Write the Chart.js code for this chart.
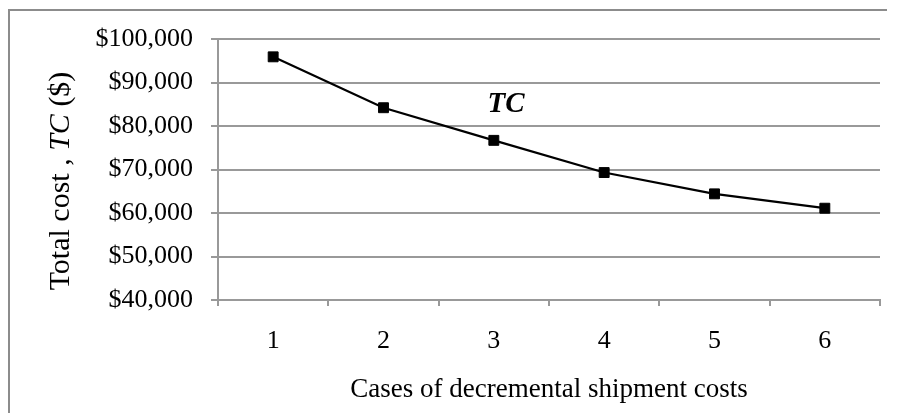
<!DOCTYPE html>
<html>
<head>
<meta charset="utf-8">
<script src="https://cdn.jsdelivr.net/npm/chart.js@4.4.1/dist/chart.umd.min.js"></script>
<style>
    body { margin: 0; background: #fff; }
    #wrap { width: 897px; height: 413px; position: relative; }
</style>
</head>
<body>
<div id="wrap"><canvas id="tcChart"></canvas></div>
<script>
const cases = ["1", "2", "3", "4", "5", "6"];
const totalCost = [95900, 84200, 76700, 69300, 64400, 61100];
const yTicks = [40000, 50000, 60000, 70000, 80000, 90000, 100000];
const seriesLabel = "TC";
const labelAt = { x: 2.11, y: 85000 };

const serif = "'Liberation Serif', 'Times New Roman', serif";
const gridGray = "#999999";

// frame, rotated y title with italic part, and the TC label inside the plot
const extras = {
    id: "extras",
    beforeDraw(chart) {
        const ctx = chart.ctx;
        ctx.save();
        ctx.fillStyle = "#fff";
        ctx.fillRect(0, 0, chart.width, chart.height);
        ctx.strokeStyle = "#8c8c8c";
        ctx.lineWidth = 2;
        ctx.beginPath();
        ctx.moveTo(9, chart.height + 5);
        ctx.lineTo(9, 10);
        ctx.lineTo(887, 10);
        ctx.stroke();
        ctx.restore();
    },
    afterDraw(chart) {
        const ctx = chart.ctx;
        ctx.save();
        ctx.fillStyle = "#000";

        const parts = [
            { text: "Total cost , ", font: "30px " + serif },
            { text: "TC", font: "italic 30px " + serif },
            { text: " ($)", font: "30px " + serif },
        ];
        let total = 0;
        parts.forEach((p) => {
            ctx.font = p.font;
            p.w = ctx.measureText(p.text).width;
            total += p.w;
        });
        ctx.translate(61, 181);
        ctx.rotate(-Math.PI / 2);
        ctx.textBaseline = "middle";
        ctx.textAlign = "left";
        let x = -total / 2;
        parts.forEach((p) => {
            ctx.font = p.font;
            ctx.fillText(p.text, x, 0);
            x += p.w;
        });
        ctx.restore();

        const xs = chart.scales.x;
        const ys = chart.scales.y;
        ctx.save();
        ctx.font = "bold italic 29px " + serif;
        ctx.fillStyle = "#000";
        ctx.textAlign = "center";
        ctx.textBaseline = "middle";
        ctx.fillText(seriesLabel, xs.getPixelForValue(labelAt.x), ys.getPixelForValue(labelAt.y));
        ctx.restore();
    }
};

const ctx = document.getElementById("tcChart").getContext("2d");

new Chart(ctx, {
    type: "line",
    data: {
        labels: cases,
        datasets: [
            {
                label: seriesLabel,
                data: totalCost,
                borderColor: "#000",
                backgroundColor: "#000",
                borderWidth: 2.2,
                tension: 0,
                pointStyle: "rect",
                pointRadius: 7,
                pointBorderWidth: 1,
                pointBackgroundColor: "#000",
                pointBorderColor: "#000",
                fill: false
            }
        ]
    },
    options: {
        responsive: true,
        maintainAspectRatio: false,
        animation: false,
        layout: {
            padding: { left: 0, right: 17, top: 39, bottom: 0 }
        },
        plugins: {
            legend: { display: false },
            tooltip: { enabled: false }
        },
        scales: {
            x: {
                offset: true,
                grid: {
                    offset: true,
                    drawOnChartArea: false,
                    drawTicks: true,
                    tickLength: 6,
                    color: gridGray,
                    lineWidth: 2
                },
                border: { color: gridGray, width: 2 },
                ticks: {
                    color: "#000",
                    padding: 20,
                    font: { family: serif, size: 26 }
                },
                title: {
                    display: true,
                    text: "Cases of decremental shipment costs",
                    color: "#000",
                    font: { family: serif, size: 27 },
                    padding: { top: 0, bottom: 7 }
                },
                afterFit: (scale) => { scale.height = 113; }
            },
            y: {
                min: 40000,
                max: 100000,
                afterBuildTicks: (scale) => {
                    scale.ticks = yTicks.map((v) => ({ value: v }));
                },
                grid: {
                    color: gridGray,
                    lineWidth: 2,
                    drawTicks: true,
                    tickLength: 7
                },
                border: { color: gridGray, width: 2 },
                ticks: {
                    color: "#000",
                    padding: 18,
                    font: { family: serif, size: 26 },
                    callback: (v) => "$" + v.toLocaleString("en-US")
                },
                afterFit: (scale) => { scale.width = 218; }
            }
        }
    },
    plugins: [extras]
});
</script>
</body>
</html>
